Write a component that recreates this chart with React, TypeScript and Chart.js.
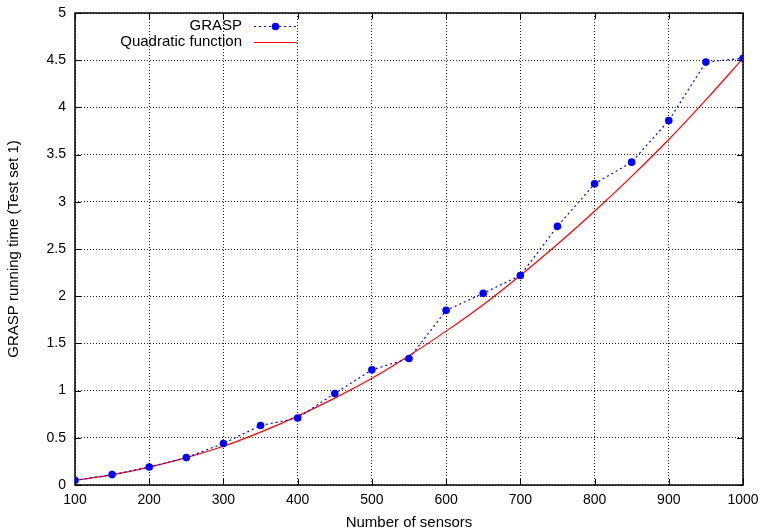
import React, { useEffect, useRef } from 'react';
import { Chart, registerables } from 'chart.js';

Chart.register(...registerables);

const sensors = [100, 150, 200, 250, 300, 350, 400, 450, 500, 550, 600, 650, 700, 750, 800, 850, 900, 950, 1000];
const graspTimes = [0.05, 0.11, 0.19, 0.29, 0.44, 0.63, 0.71, 0.97, 1.22, 1.34, 1.85, 2.03, 2.22, 2.74, 3.19, 3.42, 3.86, 4.48, 4.52];
const quadraticTimes = [0.05, 0.107, 0.19, 0.29, 0.41, 0.56, 0.73, 0.92, 1.13, 1.37, 1.63, 1.91, 2.22, 2.55, 2.9, 3.27, 3.66, 4.08, 4.52];
const xTickValues = [100, 200, 300, 400, 500, 600, 700, 800, 900, 1000];
const yTickValues = [0, 0.5, 1, 1.5, 2, 2.5, 3, 3.5, 4, 4.5, 5];

const FONT = '"Liberation Sans", Arial, Helvetica, sans-serif';

const framePlugin = {
  id: 'frame',
  beforeDatasetsDraw(chart: any) {
    const { ctx, chartArea, scales } = chart;
    const { left, right, top, bottom } = chartArea;
    const x = scales.x;
    const y = scales.y;
    ctx.save();
    ctx.strokeStyle = '#000';
    ctx.lineWidth = 1;
    ctx.setLineDash([]);
    ctx.beginPath();
    const tl = 6;
    xTickValues.forEach((v) => {
      const px = Math.round(x.getPixelForValue(v)) + 0.5;
      ctx.moveTo(px, bottom);
      ctx.lineTo(px, bottom - tl);
      ctx.moveTo(px, top);
      ctx.lineTo(px, top + tl);
    });
    yTickValues.forEach((v) => {
      const py = Math.round(y.getPixelForValue(v)) + 0.5;
      ctx.moveTo(left, py);
      ctx.lineTo(left + tl, py);
      ctx.moveTo(right, py);
      ctx.lineTo(right - tl, py);
    });
    ctx.stroke();
    ctx.lineWidth = 1.5;
    ctx.strokeRect(left, top, right - left, bottom - top);
    ctx.restore();
  },
};

const legendPlugin = {
  id: 'gnuLegend',
  afterDatasetsDraw(chart: any) {
    const { ctx } = chart;
    const ds = chart.data.datasets;
    const textRight = 242;
    const lineStart = 254;
    const lineEnd = 297;
    const rows = [26, 42];
    ctx.save();
    ctx.font = `15px ${FONT}`;
    ctx.textAlign = 'right';
    ctx.textBaseline = 'middle';
    ds.forEach((d: any, i: number) => {
      const yy = rows[i];
      ctx.fillStyle = '#000';
      ctx.fillText(d.label, textRight, yy);
      ctx.strokeStyle = d.borderColor;
      ctx.lineWidth = d.borderWidth || 1;
      ctx.setLineDash(d.borderDash || []);
      ctx.beginPath();
      ctx.moveTo(lineStart, yy + 0.5);
      ctx.lineTo(lineEnd, yy + 0.5);
      ctx.stroke();
      ctx.setLineDash([]);
      if (d.pointRadius > 0) {
        ctx.fillStyle = d.pointBackgroundColor;
        ctx.beginPath();
        ctx.arc((lineStart + lineEnd) / 2, yy + 0.5, d.pointRadius, 0, Math.PI * 2);
        ctx.fill();
      }
    });
    ctx.restore();
  },
};

export default function App() {
  const ref = useRef<HTMLCanvasElement | null>(null);

  useEffect(() => {
    if (!ref.current) return;
    const chart = new Chart(ref.current, {
      type: 'line',
      data: {
        datasets: [
          {
            label: 'GRASP',
            data: sensors.map((s, i) => ({ x: s, y: graspTimes[i] })),
            borderColor: '#0000ff',
            backgroundColor: '#0000ff',
            pointBackgroundColor: '#0000ff',
            pointBorderColor: '#0000ff',
            borderWidth: 1.2,
            borderDash: [2, 3],
            pointRadius: 3.8,
            pointBorderWidth: 0,
            fill: false,
            tension: 0,
            order: 0,
          },
          {
            label: 'Quadratic function',
            data: sensors.map((s, i) => ({ x: s, y: quadraticTimes[i] })),
            borderColor: '#ff0000',
            backgroundColor: '#ff0000',
            pointBackgroundColor: '#ff0000',
            borderWidth: 1.2,
            pointRadius: 0,
            fill: false,
            cubicInterpolationMode: 'monotone',
            order: 1,
          },
        ],
      } as any,
      options: {
        animation: false,
        responsive: false,
        maintainAspectRatio: false,
        events: [],
        layout: { padding: { top: 13, right: 19, left: 0, bottom: 0 } },
        plugins: {
          legend: { display: false },
          tooltip: { enabled: false },
        },
        scales: {
          x: {
            type: 'linear',
            min: 100,
            max: 1000,
            afterFit: (s: any) => {
              s.height = 47;
              s.paddingLeft = 0;
              s.paddingRight = 0;
            },
            afterBuildTicks: (s: any) => {
              s.ticks = xTickValues.map((v) => ({ value: v }));
            },
            ticks: {
              color: '#000',
              font: { family: FONT, size: 14 },
              padding: 7,
              maxRotation: 0,
              autoSkip: false,
              callback: (v: any) => String(v),
            },
            grid: {
              color: '#222',
              lineWidth: 1,
              drawTicks: false,
            },
            border: { display: false, dash: [1, 2] },
            title: {
              display: true,
              text: 'Number of sensors',
              color: '#000',
              font: { family: FONT, size: 15 },
              padding: { top: 0, bottom: 0 },
            },
          },
          y: {
            type: 'linear',
            min: 0,
            max: 5,
            afterFit: (s: any) => {
              s.width = 75;
              s.paddingTop = 0;
              s.paddingBottom = 0;
            },
            afterBuildTicks: (s: any) => {
              s.ticks = yTickValues.map((v) => ({ value: v }));
            },
            ticks: {
              color: '#000',
              font: { family: FONT, size: 14 },
              padding: 9,
              autoSkip: false,
              callback: (v: any) => String(v),
            },
            grid: {
              color: '#222',
              lineWidth: 1,
              drawTicks: false,
            },
            border: { display: false, dash: [1, 2] },
            title: {
              display: true,
              text: 'GRASP running time (Test set 1)',
              color: '#000',
              font: { family: FONT, size: 15 },
              padding: { top: 5, bottom: 0 },
            },
          },
        },
      } as any,
      plugins: [framePlugin, legendPlugin],
    });
    return () => chart.destroy();
  }, []);

  return (
    <div style={{ position: 'absolute', left: 0, top: 0, width: 762, height: 532, background: '#fff' }}>
      <canvas ref={ref} width={762} height={532} style={{ width: 762, height: 532 }} />
    </div>
  );
}
